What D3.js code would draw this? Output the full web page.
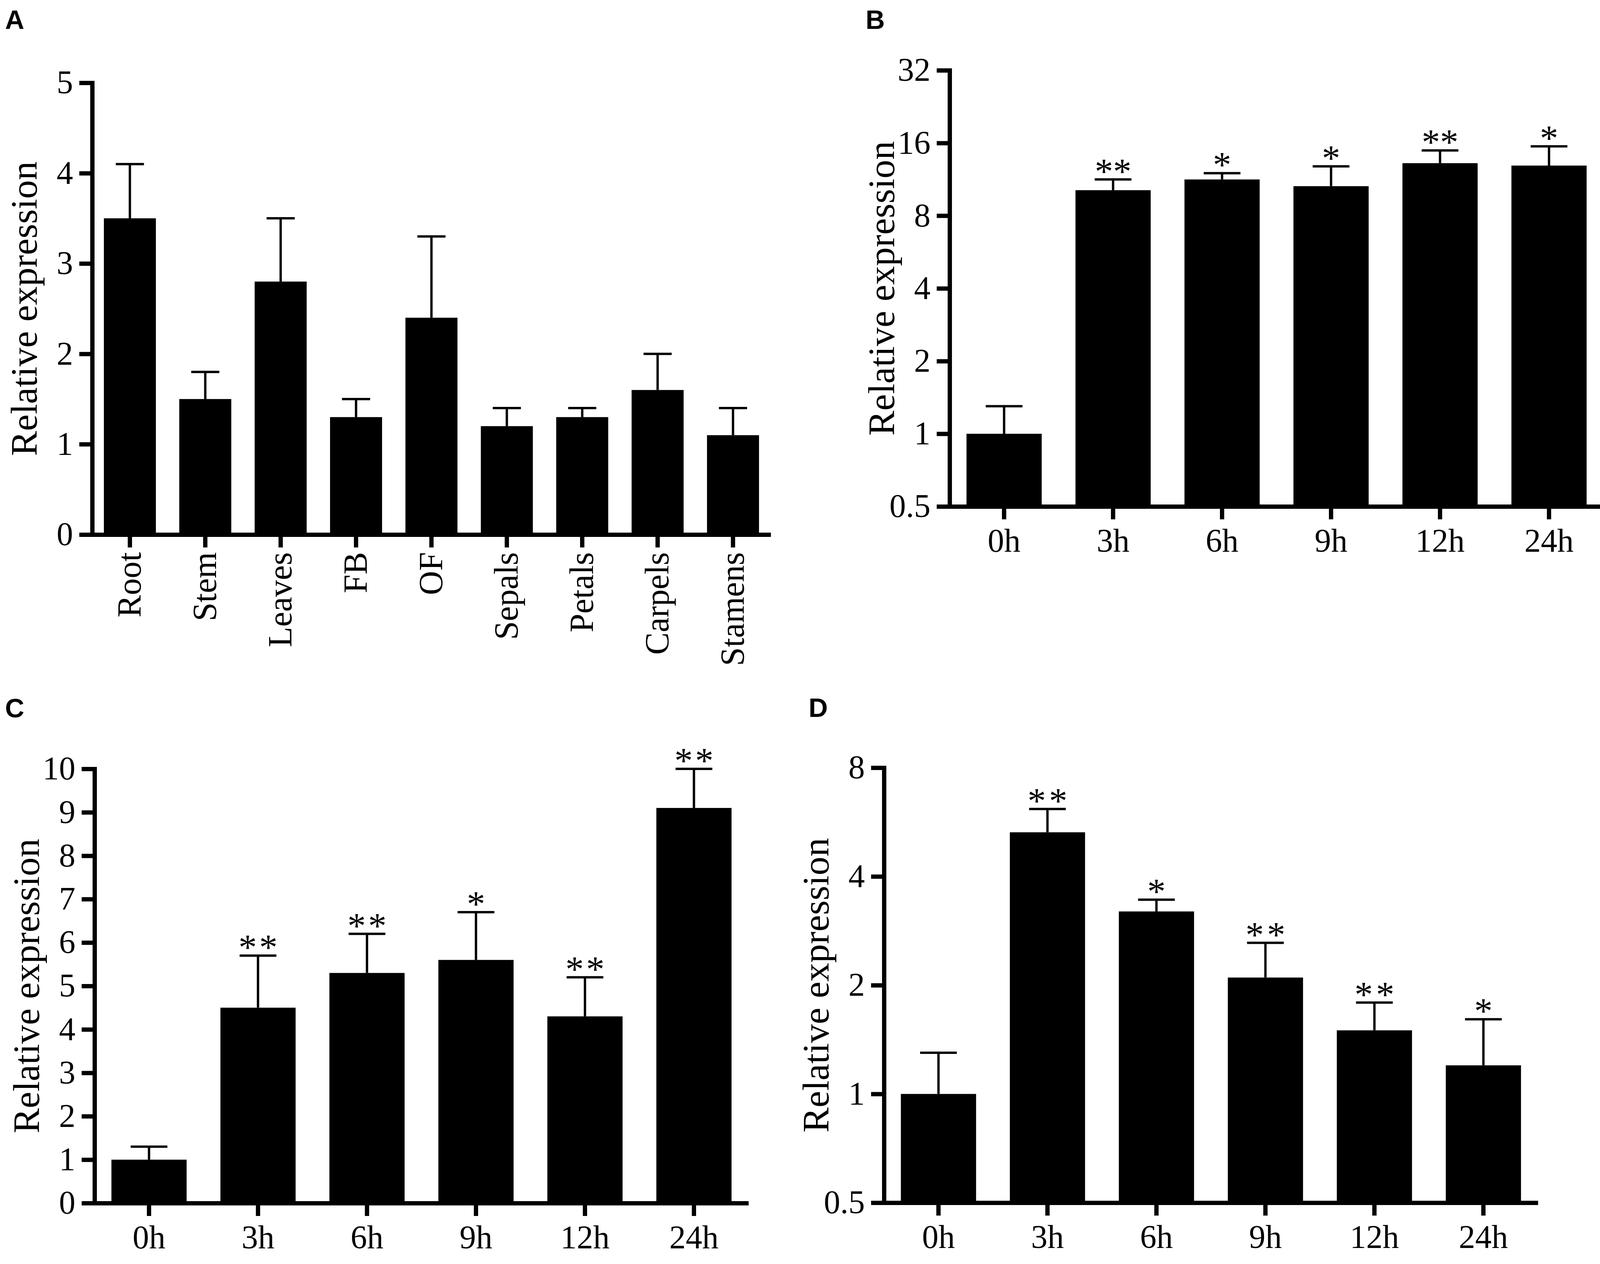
<!DOCTYPE html>
<html>
<head>
<meta charset="utf-8">
<script src="https://cdn.jsdelivr.net/npm/d3@7"></script>
<style>
    body {margin: 0; background: #fff;}
    text {font-family: "Liberation Serif", "Times New Roman", serif; fill: #000;}
</style>
</head>
<body>
<svg id="fig" width="4137" height="3237"></svg>
<script>
// panel A: tissues (linear axis)
const tissues = ["Root", "Stem", "Leaves", "FB", "OF", "Sepals", "Petals", "Carpels", "Stamens"];
const tissueMean = [3.5, 1.5, 2.8, 1.3, 2.4, 1.2, 1.3, 1.6, 1.1];
const tissueUpper = [4.1, 1.8, 3.5, 1.5, 3.3, 1.4, 1.4, 2.0, 1.4];
const tissueTicks = [0, 1, 2, 3, 4, 5];

// panels B, C, D: time course
const hours = ["0h", "3h", "6h", "9h", "12h", "24h"];

const bMean = [1.0, 10.2, 11.3, 10.6, 13.2, 12.9];
const bUpper = [1.3, 11.3, 12.0, 12.8, 14.9, 15.5];
const bStars = ["", "**", "*", "*", "**", "*"];
const bTicks = [0.5, 1, 2, 4, 8, 16, 32];

const cMean = [1.0, 4.5, 5.3, 5.6, 4.3, 9.1];
const cUpper = [1.3, 5.7, 6.2, 6.7, 5.2, 10.0];
const cStars = ["", "**", "**", "*", "**", "**"];
const cTicks = [0, 1, 2, 3, 4, 5, 6, 7, 8, 9, 10];

const dMean = [1.0, 5.3, 3.2, 2.1, 1.5, 1.2];
const dUpper = [1.3, 6.15, 3.45, 2.62, 1.79, 1.61];
const dStars = ["", "**", "*", "**", "**", "*"];
const dTicks = [0.5, 1, 2, 4, 8];

const svg = d3.select("#fig");
svg.append("rect").attr("width", 4137).attr("height", 3237).attr("fill", "#fff");

const panels = [
    {letter: "A", lx: 13, ly: 74, left: 236, right: 1973, top: 212, bottom: 1369,
        cats: tissues, mean: tissueMean, upper: tissueUpper, stars: null, ticks: tissueTicks,
        log: false, domain: [0, 5], rotate: true, cap: 72, starSpacing: 0},
    {letter: "B", lx: 2216, ly: 74, left: 2431, right: 4105, top: 180, bottom: 1297,
        cats: hours, mean: bMean, upper: bUpper, stars: bStars, ticks: bTicks,
        log: true, domain: [0.5, 32], rotate: false, cap: 94, starSpacing: 0},
    {letter: "C", lx: 13, ly: 1837, left: 242, right: 1916, top: 1969, bottom: 3081,
        cats: hours, mean: cMean, upper: cUpper, stars: cStars, ticks: cTicks,
        log: false, domain: [0, 10], rotate: false, cap: 94, starSpacing: 6},
    {letter: "D", lx: 2070, ly: 1836, left: 2263, right: 3937, top: 1966, bottom: 3080,
        cats: hours, mean: dMean, upper: dUpper, stars: dStars, ticks: dTicks,
        log: true, domain: [0.5, 8], rotate: false, cap: 94, starSpacing: 8},
];

function drawPanel(p) {
    const g = svg.append("g");

    const x = d3.scaleBand()
        .domain(p.cats)
        .range([p.left, p.right])
        .paddingInner(0.31)
        .paddingOuter(0.155);

    const y = (p.log ? d3.scaleLog().base(2) : d3.scaleLinear())
        .domain(p.domain)
        .range([p.bottom, p.top]);

    const rows = p.cats.map((c, i) => ({
        cat: c, mean: p.mean[i], upper: p.upper[i], star: p.stars ? p.stars[i] : ""
    }));
    const cx = d => x(d.cat) + x.bandwidth() / 2;

    // bars
    g.selectAll("rect.bar")
        .data(rows)
        .join("rect")
        .attr("class", "bar")
        .attr("x", d => x(d.cat))
        .attr("y", d => y(d.mean))
        .attr("width", x.bandwidth())
        .attr("height", d => y(p.domain[0]) - y(d.mean))
        .attr("fill", "#000");

    // error bars (upper half only)
    g.selectAll("line.err")
        .data(rows)
        .join("line")
        .attr("class", "err")
        .attr("x1", cx).attr("x2", cx)
        .attr("y1", d => y(d.mean)).attr("y2", d => y(d.upper))
        .attr("stroke", "#000").attr("stroke-width", 6);

    g.selectAll("line.cap")
        .data(rows)
        .join("line")
        .attr("class", "cap")
        .attr("x1", d => cx(d) - p.cap / 2).attr("x2", d => cx(d) + p.cap / 2)
        .attr("y1", d => y(d.upper)).attr("y2", d => y(d.upper))
        .attr("stroke", "#000").attr("stroke-width", 6);

    // significance stars
    g.selectAll("text.star")
        .data(rows.filter(d => d.star))
        .join("text")
        .attr("class", "star")
        .attr("x", d => cx(d) + p.starSpacing / 2)
        .attr("y", d => y(d.upper) + 10)
        .attr("text-anchor", "middle")
        .attr("font-size", 94)
        .attr("letter-spacing", p.starSpacing)
        .text(d => d.star);

    // y axis
    const yAxis = g.append("g")
        .attr("transform", `translate(${p.left},0)`)
        .call(d3.axisLeft(y).tickValues(p.ticks).tickFormat(d => d)
            .tickSize(33).tickSizeOuter(0).tickPadding(16));
    yAxis.attr("font-family", null).attr("font-size", 84);
    yAxis.select(".domain").attr("stroke-width", 11).attr("stroke-linecap", "square");
    yAxis.selectAll(".tick line").attr("stroke-width", 11);

    // x axis
    const xAxis = g.append("g")
        .attr("transform", `translate(0,${p.bottom})`)
        .call(d3.axisBottom(x).tickSize(33).tickSizeOuter(0).tickPadding(23));
    xAxis.attr("font-family", null).attr("font-size", p.rotate ? 86 : 84);
    xAxis.select(".domain").attr("stroke-width", 11);
    xAxis.selectAll(".tick line").attr("stroke-width", 11);
    if (p.rotate) {
        xAxis.selectAll(".tick text")
            .attr("x", 0).attr("y", 0).attr("dy", null)
            .attr("text-anchor", "end")
            .attr("transform", "translate(27,45) rotate(-90)");
    }

    // y title
    g.append("text")
        .attr("transform", `translate(${p.left - 142},${(p.top + p.bottom) / 2}) rotate(-90)`)
        .attr("text-anchor", "middle")
        .attr("font-size", 96)
        .text("Relative expression");

    // panel letter
    g.append("text")
        .attr("x", p.lx).attr("y", p.ly)
        .style("font-family", '"Liberation Sans", Arial, sans-serif')
        .attr("font-weight", "bold")
        .attr("font-size", 68)
        .text(p.letter);
}

panels.forEach(drawPanel);
</script>
</body>
</html>
